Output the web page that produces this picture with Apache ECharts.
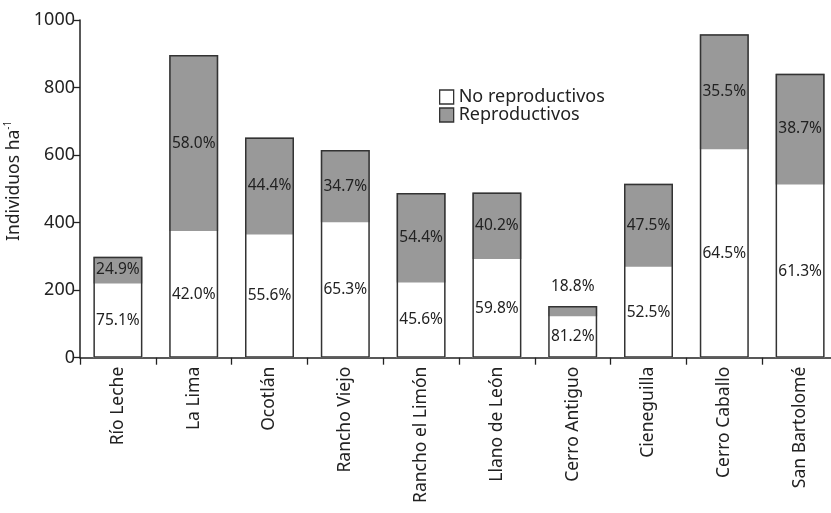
<!DOCTYPE html>
<html>
<head>
<meta charset="utf-8">
<script src="https://cdn.jsdelivr.net/npm/echarts@6/dist/echarts.min.js"></script>
<style>
html,body{margin:0;padding:0;background:#fff;}
#chart{width:831px;height:513px;}
</style>
</head>
<body>
<div id="chart"></div>
<script>
const categories = ['Río Leche','La Lima','Ocotlán','Rancho Viejo','Rancho el Limón','Llano de León','Cerro Antiguo','Cieneguilla','Cerro Caballo','San Bartolomé'];
const noReproductivos = [220, 375, 365, 401, 223, 292, 123, 269, 617, 513];
const reproductivos = [79, 521, 287, 214, 265, 197, 30, 246, 341, 328];
const pctNoReproductivos = ['75.1','42.0','55.6','65.3','45.6','59.8','81.2','52.5','64.5','61.3'];
const pctReproductivos = ['24.9','58.0','44.4','34.7','54.4','40.2','18.8','47.5','35.5','38.7'];
const yTicks = [0, 200, 400, 600, 800, 1000];

const FONT = 'Noto Sans';
const totals = noReproductivos.map((v, i) => v + reproductivos[i]);

const chart = echarts.init(document.getElementById('chart'), null, {renderer: 'canvas'});
const labelBase = {show: true, position: 'inside', fontFamily: FONT, fontSize: 15.5, color: '#222'};

chart.setOption({
  animation: false,
  backgroundColor: '#fff',
  grid: {left: 80, top: 20, right: -7, bottom: 155.3, containLabel: false, outerBoundsMode: 'none'},
  legend: {
    data: ['No reproductivos', 'Reproductivos'],
    orient: 'vertical', left: 439, top: 88,
    itemWidth: 14, itemHeight: 14, itemGap: 0,
    icon: 'rect',
    itemStyle: {borderColor: '#333', borderWidth: 1.3},
    textStyle: {fontFamily: FONT, fontSize: 18, color: '#222', lineHeight: 16, padding: [0,0,0,0]},
    padding: 0
  },
  xAxis: {
    type: 'category',
    data: categories,
    axisLine: {show: true, lineStyle: {color: '#222', width: 1.5}},
    axisTick: {show: true, length: 7, lineStyle: {color: '#222', width: 1.3}},
    axisLabel: {rotate: 90, fontFamily: FONT, fontSize: 17.5, color: '#222', margin: 9, interval: 0}
  },
  yAxis: {
    type: 'value', min: yTicks[0], max: yTicks[yTicks.length - 1], interval: yTicks[1] - yTicks[0],
    name: '{a|Individuos ha}{s|-1}',
    nameLocation: 'middle', nameGap: 55,
    nameTextStyle: {
      padding: [0, 0, 0, 16],
      rich: {
        a: {fontFamily: FONT, fontSize: 17.5, color: '#222', lineHeight: 22},
        s: {fontFamily: FONT, fontSize: 10, color: '#222', verticalAlign: 'top', lineHeight: 22, padding: [0,0,10,0]}
      }
    },
    splitLine: {show: false},
    axisLine: {show: true, lineStyle: {color: '#222', width: 1.5}},
    axisTick: {show: true, length: 7, lineStyle: {color: '#222', width: 1.3}},
    axisLabel: {fontFamily: FONT, fontSize: 18, color: '#222', margin: 5, formatter: v => String(v)}
  },
  series: [
    {
      name: 'No reproductivos', type: 'bar', stack: 'total', barWidth: 49,
      itemStyle: {color: '#ffffff', borderWidth: 0},
      label: Object.assign({}, labelBase, {formatter: p => pctNoReproductivos[p.dataIndex] + '%'}),
      data: noReproductivos
    },
    {
      name: 'Reproductivos', type: 'bar', stack: 'total', barWidth: 49,
      itemStyle: {color: '#999999', borderWidth: 0},
      label: Object.assign({}, labelBase, {formatter: p => pctReproductivos[p.dataIndex] + '%'}),
      data: reproductivos.map((v, i) => i === 6 ? {value: v, label: {position: 'top', distance: 11}} : v)
    },
    {
      name: 'outline', type: 'bar', barWidth: 49, barGap: '-100%', silent: true,
      itemStyle: {color: 'rgba(0,0,0,0)', borderColor: '#333', borderWidth: 1.5},
      data: totals, z: 5
    }
  ]
});
</script>
</body>
</html>
